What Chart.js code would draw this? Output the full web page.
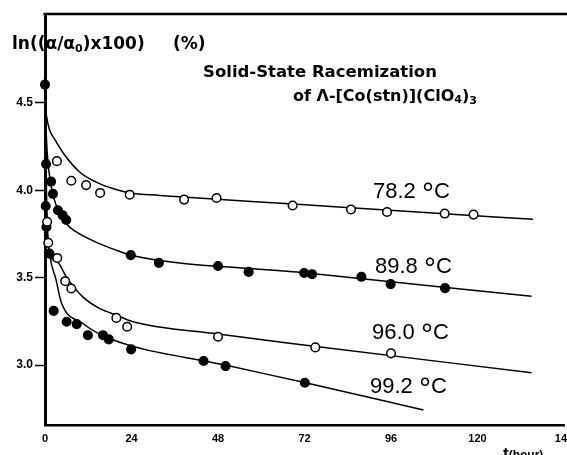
<!DOCTYPE html>
<html><head><meta charset="utf-8">
<script src="https://cdn.jsdelivr.net/npm/chart.js@4.4.1/dist/chart.umd.min.js"></script>
<style>html,body{margin:0;padding:0;overflow:hidden;background:#fff;width:567px;height:455px}canvas{display:block}</style>
</head><body><canvas id="c" width="590" height="455"></canvas>
<script>
// tick labels
const xTicks = [0, 24, 48, 72, 96, 120, 144];
const yTicks = [3.0, 3.5, 4.0, 4.5];
// series labels (temperature)
const seriesTemps = ['78.2', '89.8', '96.0', '99.2'];

// measured points (t in hours, ln value)
const t782 = [3.3, 7.3, 11.4, 15.3, 23.5, 38.6, 47.6, 68.7, 84.9, 94.9, 110.9, 118.9];
const v782 = [4.167, 4.055, 4.03, 3.985, 3.975, 3.947, 3.956, 3.913, 3.89, 3.876, 3.867, 3.861];
const t898 = [0, 0.3, 1.7, 2.2, 3.6, 4.9, 5.9, 23.8, 31.6, 48, 56.5, 71.9, 74.1, 87.8, 95.9, 111];
const v898 = [4.605, 4.15, 4.05, 3.98, 3.886, 3.857, 3.83, 3.629, 3.585, 3.567, 3.533, 3.527, 3.52, 3.505, 3.463, 3.44];
const t960 = [0.6, 0.9, 3.4, 5.6, 7.3, 19.8, 22.8, 48, 75, 96];
const v960 = [3.82, 3.70, 3.613, 3.48, 3.438, 3.27, 3.219, 3.162, 3.101, 3.067];
const t992 = [0.2, 0.4, 1.25, 2.4, 6.0, 8.8, 11.9, 16.1, 17.7, 23.9, 44, 50.1, 72.1];
const v992 = [3.91, 3.79, 3.638, 3.31, 3.248, 3.234, 3.171, 3.171, 3.147, 3.09, 3.023, 2.994, 2.899];

// fitted curves
const ct782 = [0, 0.1, 0.47, 1.2, 2.8, 5.1, 9.6, 14.2, 18.8, 23.5, 31.8, 70, 100, 135.4];
const cv782 = [4.605, 4.5, 4.42, 4.35, 4.288, 4.212, 4.105, 4.047, 4.01, 3.985, 3.971, 3.92, 3.88, 3.834];
const ct898 = [0, 0.4, 1.5, 3, 5.9, 8.7, 15.1, 19.8, 23.8, 70, 135];
const cv898 = [4.605, 4.3, 4.05, 3.92, 3.81, 3.762, 3.695, 3.657, 3.629, 3.532, 3.394];
const ct960 = [0, 0.4, 1.25, 3.4, 5.9, 10.5, 15.1, 19.8, 24.4, 48, 70.7, 135];
const cv960 = [4.605, 4.0, 3.64, 3.59, 3.505, 3.39, 3.324, 3.286, 3.248, 3.178, 3.118, 2.956];
const ct992 = [0, 0.3, 1.25, 3.1, 4.5, 10.5, 17.9, 50, 72, 105];
const cv992 = [4.605, 3.95, 3.64, 3.486, 3.36, 3.238, 3.152, 3.0, 2.9, 2.743];

const zip = (a, b) => a.map((x, i) => ({x: x, y: b[i]}));

function pts(t, v, filled) {
  return {type: 'scatter', data: zip(t, v), showLine: false, order: 0, clip: false,
    pointRadius: 4.3, pointHoverRadius: 4.3, pointBorderWidth: 1.5,
    pointBorderColor: '#000', pointBackgroundColor: filled ? '#000' : '#fff'};
}
function curve(t, v) {
  return {type: 'line', data: zip(t, v), showLine: true, order: 1, pointRadius: 0,
    borderColor: '#000', borderWidth: 1.5, cubicInterpolationMode: 'monotone', fill: false};
}

const labelPos = [[373, 198], [375, 273], [372, 339], [370, 393]];

function runs(ctx, x, y, list) {
  list.forEach(r => {
    ctx.font = r.f;
    ctx.fillText(r.t, x, y + (r.dy || 0));
    x += ctx.measureText(r.t).width + (r.gap || 0);
  });
}

const annot = {
  id: 'annot',
  afterDraw(chart) {
    const ctx = chart.ctx, a = chart.chartArea;
    ctx.save();
    ctx.strokeStyle = '#000'; ctx.lineWidth = 2.5;
    ctx.beginPath(); ctx.moveTo(a.left - 1.5, a.top); ctx.lineTo(chart.width, a.top); ctx.stroke();
    ctx.fillStyle = '#000'; ctx.textBaseline = 'alphabetic'; ctx.textAlign = 'left';
    const B = 'bold 17px "DejaVu Sans"', S = 'bold 11px "DejaVu Sans"';
    runs(ctx, 12, 49, [{t: 'ln((α/α', f: B}, {t: '0', f: S, dy: 3}, {t: ')x100)', f: B}]);
    runs(ctx, 173, 49, [{t: '(%)', f: B}]);
    runs(ctx, 203, 77, [{t: 'Solid-State Racemization', f: 'bold 16.5px "DejaVu Sans"'}]);
    const B2 = 'bold 16px "DejaVu Sans"', S2 = 'bold 11px "DejaVu Sans"';
    runs(ctx, 293, 101, [{t: 'of Λ-[Co(stn)](ClO', f: B2}, {t: '4', f: S2, dy: 2}, {t: ')', f: B2}, {t: '3', f: S2, dy: 3}]);
    seriesTemps.forEach((s, i) => runs(ctx, labelPos[i][0], labelPos[i][1],
      [{t: s + ' ', f: '22px "Liberation Sans"'}, {t: '°', f: '30px "Liberation Sans"', dy: 5}, {t: 'C', f: '22px "Liberation Sans"'}]));
    runs(ctx, 503, 459, [{t: 't', f: 'bold 17px "Liberation Sans"'}, {t: '(hour)', f: 'bold 12px "Liberation Sans"'}]);
    ctx.restore();
  }
};

new Chart(document.getElementById('c'), {
  data: {datasets: [
    pts(t782, v782, false), pts(t898, v898, true), pts(t960, v960, false), pts(t992, v992, true),
    curve(ct782, cv782), curve(ct898, cv898), curve(ct960, cv960), curve(ct992, cv992)
  ]},
  options: {
    responsive: false, animation: false, devicePixelRatio: 1,
    layout: {padding: {top: 14, right: 26, left: 0, bottom: 0}},
    plugins: {legend: {display: false}, tooltip: {enabled: false}, title: {display: false}},
    scales: {
      x: {type: 'linear', min: 0, max: 144,
        afterFit: s => { s.height = 30; },
        afterBuildTicks: s => { s.ticks = xTicks.map(v => ({value: v})); },
        grid: {display: true, drawOnChartArea: false, drawTicks: false},
        border: {display: true, color: '#000', width: 2.5},
        ticks: {padding: 7, color: '#000', font: {family: 'Liberation Sans', size: 11, weight: 'bold'}, maxRotation: 0, autoSkip: false,
          callback: v => String(v)}
      },
      y: {type: 'linear', min: 2.657, max: 5.009,
        afterFit: s => { s.width = 45; },
        afterBuildTicks: s => { s.ticks = yTicks.map(v => ({value: v})); },
        grid: {display: true, drawOnChartArea: false, drawTicks: true, tickLength: 10, color: '#000', tickWidth: 1.5},
        border: {display: true, color: '#000', width: 3},
        ticks: {padding: 2, color: '#000', font: {family: 'Liberation Sans', size: 12, weight: 'bold'}, autoSkip: false,
          callback: v => Number(v).toFixed(1)}
      }
    }
  },
  plugins: [annot]
});
</script></body></html>
